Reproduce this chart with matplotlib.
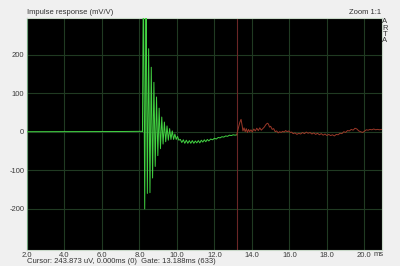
import matplotlib
matplotlib.use("Agg")
import matplotlib.pyplot as plt

# ---- data (ms, mV/V) ----
green_t = [2.0, 7.0, 8.12, 8.16,
           8.21, 8.28, 8.35, 8.42, 8.49, 8.56, 8.63, 8.70, 8.77, 8.84,
           8.91, 8.98, 9.05, 9.12, 9.19, 9.26, 9.33, 9.40, 9.47, 9.54,
           9.61, 9.68, 9.75, 9.82, 9.89, 9.96, 10.03, 10.10,
           10.18, 10.26, 10.34, 10.42, 10.50, 10.58, 10.66, 10.74, 10.82, 10.90,
           10.98, 11.06, 11.14, 11.22, 11.30, 11.38, 11.46, 11.54, 11.62, 11.70,
           11.80, 11.90, 12.00, 12.10, 12.20, 12.30, 12.40, 12.50, 12.60, 12.70,
           12.80, 12.90, 13.00, 13.10, 13.19]
green_v = [0, 0.5, 1, 0,
           420, -200, 400, -160, 215, -158, 167, -120, 128, -90,
           90, -62, 61, -44, 38, -32, 25, -26, 15, -22,
           8, -20, 2, -20, -6, -20, -12, -22,
           -20, -28, -21, -30, -22, -30, -23, -30, -23, -30,
           -24, -29, -23, -29, -22, -27, -21, -26, -20, -24,
           -19, -21, -17, -19, -15, -16, -13, -14, -11, -12,
           -9, -10, -8, -9, -8]

red_t = [13.19, 13.28, 13.36, 13.42, 13.48, 13.52, 13.58, 13.64, 13.70, 13.76,
         13.82, 13.88, 13.95, 14.02, 14.10, 14.18, 14.26, 14.34, 14.42, 14.50,
         14.58, 14.66, 14.74, 14.82, 14.88, 14.94, 15.00, 15.08, 15.16, 15.24,
         15.32, 15.40, 15.48, 15.56, 15.64, 15.72, 15.80, 15.88, 15.96, 16.04,
         16.12, 16.20, 16.30, 16.40, 16.50, 16.60, 16.70, 16.80, 16.90, 17.00,
         17.10, 17.20, 17.30, 17.40, 17.50, 17.60, 17.70, 17.80, 17.90, 18.00,
         18.10, 18.20, 18.30, 18.40, 18.50, 18.60, 18.70, 18.80, 18.90, 19.00,
         19.10, 19.20, 19.30, 19.40, 19.50, 19.60, 19.70, 19.80, 19.90, 20.00,
         20.10, 20.20, 20.30, 20.40, 20.50, 20.60, 20.70, 20.80, 20.94]
red_v = [-8, 10, 25, 32, 15, 2, 10, 0, 8, -2,
         6, 0, 5, -1, 7, 2, 9, 3, 10, 4,
         8, 12, 18, 22, 20, 12, 14, 6, 8, 0,
         2, -3, 0, -2, 1, -1, 3, 0, 2, -2,
         -1, -5, -3, -7, -4, -6, -2, -5, -1, -4,
         -2, -6, -3, -7, -4, -8, -5, -9, -6, -10,
         -7, -10, -8, -11, -7, -8, -4, -5, 0, -2,
         3, 2, 6, 4, 9, 7, 2, 0, -2, 1,
         5, 4, 6, 5, 7, 5, 6, 5, 6]

gate_ms = 13.19
x_ticks = [2, 4, 6, 8, 10, 12, 14, 16, 18, 20]
x_labels = ["2.0", "4.0", "6.0", "8.0", "10.0", "12.0", "14.0", "16.0", "18.0", "20.0"]
y_ticks = [-200, -100, 0, 100, 200]
y_labels = ["-200", "-100", "0", "100", "200"]

plt.rcParams['font.family'] = ['Liberation Sans', 'DejaVu Sans']
fig = plt.figure(figsize=(4.0, 2.66), dpi=100, facecolor='#f0f0f0')
ax = fig.add_axes([27/400, 16/266, 355/400, 232/266])
ax.set_facecolor('black')
ax.set_xlim(2.0, 20.94)
ax.set_ylim(-306.5, 294.6)

ax.set_xticks(x_ticks)
ax.set_xticklabels(x_labels)
ax.set_yticks(y_ticks)
ax.set_yticklabels(y_labels)
ax.tick_params(axis='both', length=0, labelsize=5.5, labelcolor='#3a3a3a')
ax.tick_params(axis='x', pad=1.5)
ax.tick_params(axis='y', pad=2)
ax.grid(True, color='#203a22', linewidth=0.8)
ax.set_axisbelow(True)
for s in ax.spines.values():
    s.set_color('#c8d8c8')
    s.set_linewidth(0.8)
ax.spines['left'].set_color('#6fa07a')

ax.axvline(gate_ms, color='#6a2626', linewidth=0.8, zorder=2)
ax.plot(green_t, green_v, color='#42d242', linewidth=0.7, zorder=3)
ax.plot(red_t, red_v, color='#9a3828', linewidth=0.7, zorder=3)

fig.text(27/400, 1 - 13/266, "Impulse response (mV/V)", fontsize=5.5,
         color='#333333', ha='left', va='center')
fig.text(381/400, 1 - 13/266, "Zoom 1:1", fontsize=5.5,
         color='#333333', ha='right', va='center')
for i, ch in enumerate("ARTA"):
    fig.text(385/400, 1 - (22 + i * 6.3)/266, ch, fontsize=5.5,
             color='#333333', ha='center', va='center')
fig.text(374/400, 1 - 254/266, "ms", fontsize=5.5, color='#3a3a3a',
         ha='left', va='center')
fig.text(27/400, 1 - 261.5/266, "Cursor: 243.873 uV, 0.000ms (0)  Gate: 13.188ms (633)",
         fontsize=5.5, color='#333333', ha='left', va='center')

fig.savefig("out.png", dpi=100, facecolor=fig.get_facecolor())
